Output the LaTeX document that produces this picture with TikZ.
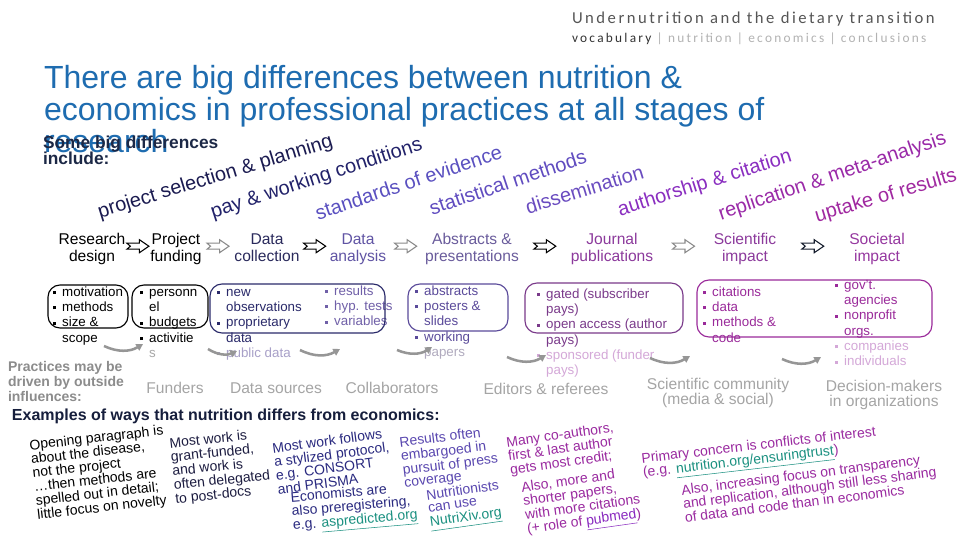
\documentclass[tikz,border=0pt]{standalone}
\usepackage{fontspec}
\setmainfont{Liberation Sans}
\newfontfamily\hdrfont[LetterSpace=15]{Carlito}
\newfontfamily\navfont[LetterSpace=17]{Carlito}
\usetikzlibrary{arrows.meta,calc}
\definecolor{titleblue}{RGB}{30,108,176}
\definecolor{hdrgray}{RGB}{85,85,85}
\definecolor{navdark}{RGB}{50,50,50}
\definecolor{navlight}{RGB}{178,178,178}
\definecolor{sbdnavy}{RGB}{28,40,70}
\definecolor{navyA}{RGB}{26,26,80}
\definecolor{navyB}{RGB}{34,34,106}
\definecolor{slateA}{RGB}{90,80,192}
\definecolor{slateB}{RGB}{96,76,192}
\definecolor{slateC}{RGB}{106,76,192}
\definecolor{violetA}{RGB}{138,46,192}
\definecolor{magA}{RGB}{154,42,168}
\definecolor{magB}{RGB}{160,40,160}
\definecolor{dcc}{RGB}{42,42,92}
\definecolor{dac}{RGB}{96,84,164}
\definecolor{apc}{RGB}{106,92,156}
\definecolor{jpc}{RGB}{140,58,156}
\definecolor{soc}{RGB}{150,56,160}
\definecolor{boxnavy}{RGB}{42,42,106}
\definecolor{boxpurple}{RGB}{90,74,154}
\definecolor{boxplum}{RGB}{122,58,138}
\definecolor{boxmag}{RGB}{154,42,154}
\definecolor{resc}{RGB}{112,96,168}
\definecolor{lightlav}{RGB}{168,160,200}
\definecolor{lightgray}{RGB}{176,170,190}
\definecolor{sgray}{RGB}{168,168,168}
\definecolor{lightpink}{RGB}{212,168,216}
\definecolor{inflgray}{RGB}{165,165,165}
\definecolor{practgray}{RGB}{140,140,140}
\definecolor{arcgray}{RGB}{150,150,150}
\definecolor{arrowgray}{RGB}{138,138,138}
\definecolor{arrowdark}{RGB}{20,28,44}
\definecolor{exnavy}{RGB}{22,30,60}
\definecolor{hk2}{RGB}{28,28,64}
\definecolor{hk3}{RGB}{42,42,128}
\definecolor{hk5}{RGB}{90,72,176}
\definecolor{hk7}{RGB}{154,42,160}
\definecolor{linkteal}{RGB}{26,144,128}
\definecolor{pubc}{RGB}{138,42,192}
\newcommand\txtL[1]{\begin{tabular}[t]{@{}l@{}}#1\end{tabular}}
\newcommand\txtC[1]{\begin{tabular}[t]{@{}c@{}}#1\end{tabular}}
\newcommand\bul{\raisebox{1.4pt}{\rule{2.4pt}{2.4pt}}\hspace{4.5pt}}
\newcommand\bulsp{\phantom{\bul}}
\newcommand\lnk[1]{\textcolor{linkteal}{\underline{#1}}}
\begin{document}
\begin{tikzpicture}[x=0.75pt,y=-0.75pt]
\tikzset{
 every node/.style={inner sep=0pt, outer sep=0pt},
 stage/.style={anchor=base, font=\fontsize{11.7}{13}\selectfont},
 infl/.style={anchor=base, text=inflgray, font=\fontsize{11.7}{11.5}\selectfont},
 bt/.style={anchor=base west, font=\fontsize{10}{11.5}\selectfont},
 curv/.style={anchor=base west, font=\fontsize{15}{15}\selectfont},
 hand/.style={anchor=base west, font=\fontsize{10.5}{9.5}\selectfont},
 rbox/.style={rounded corners=9pt, line width=0.85pt},
 grayarc/.style={draw=arcgray, line width=1.9pt, -{Triangle[length=5pt,width=5.5pt]}, bend right=28},
 barrow/.pic={\draw[#1, line width=0.8pt, line join=miter] (-11,-3) -- (1.5,-3) -- (1.5,-6.5) -- (11,0) -- (1.5,6.5) -- (1.5,3) -- (-11,3) -- (-7.5,0) -- cycle;}
}
\fill[white] (0,0) rectangle (960,540);
\useasboundingbox (0,0) rectangle (960,540);

% header
\node[anchor=base west, font=\hdrfont\fontsize{12.5}{12.5}\selectfont, text=hdrgray] (hdr) at (572,23) {Undernutrition and the dietary transition};
\node[anchor=base west, font=\navfont\fontsize{10}{10}\selectfont, text=navlight] (nav) at (572,42) {\textcolor{navdark}{vocabulary} | nutrition | economics | conclusions};

% title
\node[anchor=base west, text=titleblue, font=\fontsize{24}{23.25}\selectfont] (title) at (44,88) {\txtL{There are big differences between nutrition \&\\economics in professional practices at all stages of\\research}};
\node[anchor=base west, text=sbdnavy, font=\bfseries\fontsize{13}{11}\selectfont] (sbd) at (43,148) {\txtL{Some big differences\\include:}};

% curved labels
\node[curv, text=navyA, rotate=17] (c1) at (100,218) {project selection \& planning};
\node[curv, text=navyB, rotate=18] (c2) at (213,218) {pay \& working conditions};
\node[curv, text=slateA, rotate=18.5] (c3) at (318,220) {standards of evidence};
\node[curv, text=slateB, rotate=18.5] (c4) at (432,215) {statistical methods};
\node[curv, text=slateC, rotate=17] (c5) at (528,214) {dissemination};
\node[curv, text=violetA, rotate=17.5] (c6) at (620,216) {authorship \& citation};
\node[curv, text=magA, rotate=18.7] (c7) at (721,220) {replication \& meta-analysis};
\node[curv, text=magB, rotate=16.5] (c8) at (817,222) {uptake of results};

% stages
\node[stage, text=black] (rd) at (92,244) {\txtC{Research\\design}};
\node[stage, text=black] (pf) at (176,244) {\txtC{Project\\funding}};
\node[stage, text=dcc] (dc) at (267,244) {\txtC{Data\\collection}};
\node[stage, text=dac] (da) at (358,244) {\txtC{Data\\analysis}};
\node[stage, text=apc] (ap) at (472,244) {\txtC{Abstracts \&\\presentations}};
\node[stage, text=jpc] (jp) at (612,244) {\txtC{Journal\\publications}};
\node[stage, text=jpc] (si) at (745,244) {\txtC{Scientific\\impact}};
\node[stage, text=soc] (so) at (877,244) {\txtC{Societal\\impact}};

\pic at ($(rd.east)!.5!(pf.west)+(0,-3)$) {barrow=black};
\pic at ($(pf.east)!.5!(dc.west)+(0,-3)$) {barrow=arrowgray};
\pic at ($(dc.east)!.5!(da.west)+(0,-3)$) {barrow=black};
\pic at ($(da.east)!.5!(ap.west)+(0,-3)$) {barrow=arrowgray};
\pic at ($(ap.east)!.5!(jp.west)+(0,-3)$) {barrow=black};
\pic at ($(jp.east)!.5!(si.west)+(0,-3)$) {barrow=arrowgray};
\pic at ($(si.east)!.5!(so.west)+(0,-3)$) {barrow=arrowdark};

% bullet lists
\node[bt, text=black] (b1) at (53,296) {\txtL{\bul motivation\\\bul methods\\\bul size \&\\\bulsp scope}};
\node[bt, text=black] (b2) at (140,296) {\txtL{\bul personn\\\bulsp el\\\bul budgets\\\bul activitie\\\bulsp\textcolor{sgray}{s}}};
\node[bt, text=boxnavy] (b3) at (217,296) {\txtL{\bul new\\\bulsp observations\\\bul proprietary\\\bulsp data\\\textcolor{lightlav}{\bul public data}}};
\node[bt, text=resc] (b3b) at (325,295) {\txtL{\bul results\\\bul hyp. tests\\\bul variables}};
\node[bt, text=boxpurple] (b4) at (415,295) {\txtL{\bul abstracts\\\bul posters \&\\\bulsp slides\\\bul working\\\bulsp\textcolor{lightgray}{papers}}};
\node[bt, text=boxplum] (b5) at (537,298) {\txtL{\bul gated (subscriber\\\bulsp pays)\\\bul open access (author\\\bulsp pays)\\\textcolor{lightpink}{\bul sponsored (funder}\\\bulsp\textcolor{lightpink}{pays)}}};
\node[bt, text=boxmag] (b6) at (703,296) {\txtL{\bul citations\\\bul data\\\bul methods \&\\\bulsp code}};
\node[bt, text=boxmag] (b6b) at (835,289) {\txtL{\bul gov't.\\\bulsp agencies\\\bul nonprofit\\\bulsp orgs.\\\textcolor{lightpink}{\bul companies}\\\textcolor{lightpink}{\bul individuals}}};

\draw[rbox, draw=black] (48,285) rectangle (128,328);
\draw[rbox, draw=black] (132,285) rectangle (208,328);
\draw[rbox, draw=boxnavy] (210,284) rectangle (385,333);
\draw[rbox, draw=boxpurple] (408,284) rectangle (508,331);
\draw[rbox, draw=boxplum] (525,283) rectangle (683,333);
\draw[rbox, draw=boxmag] (697,280) rectangle (932,337);

% influence arcs
\coordinate (ga1) at (104,346); \coordinate (gb1) at (143,344);
\coordinate (ga2) at (208,349); \coordinate (gb2) at (237,351);
\coordinate (ga3) at (300,350); \coordinate (gb3) at (340,349);
\coordinate (ga4) at (397,350); \coordinate (gb4) at (432,347);
\coordinate (ga5) at (507,357); \coordinate (gb5) at (546,355);
\coordinate (ga6) at (650,358); \coordinate (gb6) at (690,356);
\coordinate (ga7) at (782,359); \coordinate (gb7) at (821,357);
\foreach \i in {1,...,7} {\draw[grayarc] (ga\i) to (gb\i);}

% influences
\node[anchor=base west, text=practgray, font=\bfseries\fontsize{10.5}{11.25}\selectfont] (pract) at (8,371) {\txtL{Practices may be\\driven by outside\\influences:}};
\node[infl] (i1) at (175,393) {Funders};
\node[infl] (i2) at (276,393) {Data sources};
\node[infl] (i3) at (392,393) {Collaborators};
\node[infl] (i4) at (546,394) {Editors \& referees};
\node[infl] (i5) at (718,389) {\txtC{Scientific community\\(media \& social)}};
\node[infl] (i6) at (884,391) {\txtC{Decision-makers\\in organizations}};

% examples
\node[anchor=base west, text=exnavy, font=\bfseries\fontsize{12}{12}\selectfont] (ex) at (12,420) {Examples of ways that nutrition differs from economics:};
\node[hand, text=black, rotate=6.5] (k1) at (30,450) {\txtL{Opening paragraph is\\about the disease,\\not the project\\…then methods are\\spelled out in detail;\\little focus on novelty}};
\node[hand, text=hk2, rotate=6] (k2) at (170,448) {\txtL{Most work is\\grant-funded,\\and work is\\often delegated\\to post-docs}};
\node[hand, text=hk3, rotate=7.5] (k3) at (273,453) {\txtL{Most work follows\\a stylized protocol,\\e.g. CONSORT\\and PRISMA}};
\node[hand, text=hk3, rotate=5] (k4) at (291,502) {\txtL{Economists are\\also preregistering,\\e.g. \lnk{aspredicted.org}}};
\node[hand, text=hk5, rotate=7] (k5) at (400,447) {\txtL{Results often\\embargoed in\\pursuit of press\\coverage}};
\node[hand, text=hk5, rotate=8] (k6) at (427,500) {\txtL{Nutritionists\\can use\\\lnk{NutriXiv.org}}};
\node[hand, text=hk7, rotate=8] (k7) at (507,447) {\txtL{Many co-authors,\\first \& last author\\gets most credit;}};
\node[hand, text=hk7, rotate=8] (k8) at (522,492) {\txtL{Also, more and\\shorter papers,\\with more citations\\(+ role of \textcolor{pubc}{\underline{pubmed}})}};
\node[hand, text=hk7, rotate=6.6] (k9) at (642,463) {\txtL{Primary concern is conflicts of interest\\(e.g. \lnk{nutrition.org/ensuringtrust})}};
\node[hand, text=hk7, rotate=7.3] (k10) at (682,495) {\txtL{Also, increasing focus on transparency\\and replication, although still less sharing\\of data and code than in economics}};
\end{tikzpicture}
\end{document}
